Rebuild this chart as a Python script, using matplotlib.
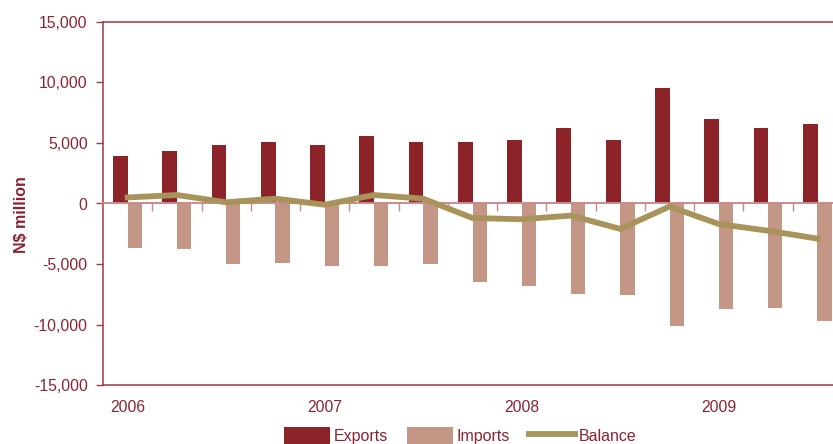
import matplotlib
matplotlib.use("Agg")
import matplotlib.pyplot as plt
import numpy as np

plt.rcParams['font.family'] = ['Liberation Sans', 'DejaVu Sans']

# Quarterly trade, N$ million (2006 Q1 - 2009 Q3)
quarters = ["2006Q1", "2006Q2", "2006Q3", "2006Q4",
            "2007Q1", "2007Q2", "2007Q3", "2007Q4",
            "2008Q1", "2008Q2", "2008Q3", "2008Q4",
            "2009Q1", "2009Q2", "2009Q3"]
exports = [3950, 4350, 4800, 5100, 4850, 5600, 5100, 5100,
           5250, 6200, 5250, 9550, 7000, 6250, 6600]
imports = [-3650, -3800, -5000, -4900, -5200, -5150, -5000, -6450,
           -6800, -7450, -7600, -10100, -8750, -8600, -9750]
balance = [500, 700, 100, 400, -100, 700, 400, -1200,
           -1300, -1000, -2100, -250, -1700, -2250, -2900]
year_labels = ["2006", "2007", "2008", "2009"]

text_red = "#8B2331"
spine_red = "#9E3A42"
zero_pink = "#C98A8E"
c_exp = "#8B2329"
c_imp = "#C49686"
c_bal = "#A8935A"

fig = plt.figure(figsize=(8.33, 4.44), dpi=100)
ax = fig.add_axes([103 / 833, 59 / 444, 739 / 833, 363 / 444])

x = np.arange(len(quarters))
h_exp = ax.bar(x - 0.145, exports, width=0.30, color=c_exp, label="Exports", zorder=2)
h_imp = ax.bar(x + 0.145, imports, width=0.29, color=c_imp, label="Imports", zorder=2)
h_bal, = ax.plot(x, balance, color=c_bal, lw=4.2, label="Balance", zorder=4,
                 solid_joinstyle="miter")

ax.set_xlim(-0.5, len(quarters) - 0.5)
ax.set_ylim(-15000, 15000)
ax.set_yticks(np.arange(-15000, 15001, 5000))
ax.set_yticklabels([f"{v:,}" for v in range(-15000, 15001, 5000)])
ax.tick_params(axis="y", colors=spine_red, labelcolor=text_red, labelsize=11.3,
               length=5, width=1, pad=6)

# Year labels under the first quarter of each year
ax.set_xticks(x[::4])
ax.set_xticklabels(year_labels)
ax.tick_params(axis="x", length=0, labelsize=11.3, labelcolor=text_red, pad=11)

for side in ("left", "top", "bottom"):
    ax.spines[side].set_color(spine_red)
    ax.spines[side].set_linewidth(1.1)
ax.spines["right"].set_visible(False)

# Zero baseline with quarter separator ticks hanging below it
zero_ax = ax.secondary_xaxis(0.5)
zero_ax.set_xticks(x[:-1] + 0.5)
zero_ax.set_xticklabels([])
zero_ax.tick_params(axis="x", direction="in", length=6, width=1, colors=zero_pink)
for sp in zero_ax.spines.values():
    sp.set_color(zero_pink)
    sp.set_linewidth(1.4)
zero_ax.set_zorder(3)

ax.set_ylabel("N$ million", color=text_red, fontsize=11.5, fontweight="bold")
ax.yaxis.set_label_coords(-0.100, 0.47)

fig.legend([h_exp, h_imp, h_bal], ["Exports", "Imports", "Balance"],
           loc="upper left", bbox_to_anchor=(284 / 833, 1 - 427 / 444),
           ncol=3, frameon=False, fontsize=11.5, labelcolor=text_red,
           handlelength=2.9, handleheight=1.3, handletextpad=0.2,
           columnspacing=1.2, borderpad=0, borderaxespad=0)

fig.savefig("out.png", dpi=100)
